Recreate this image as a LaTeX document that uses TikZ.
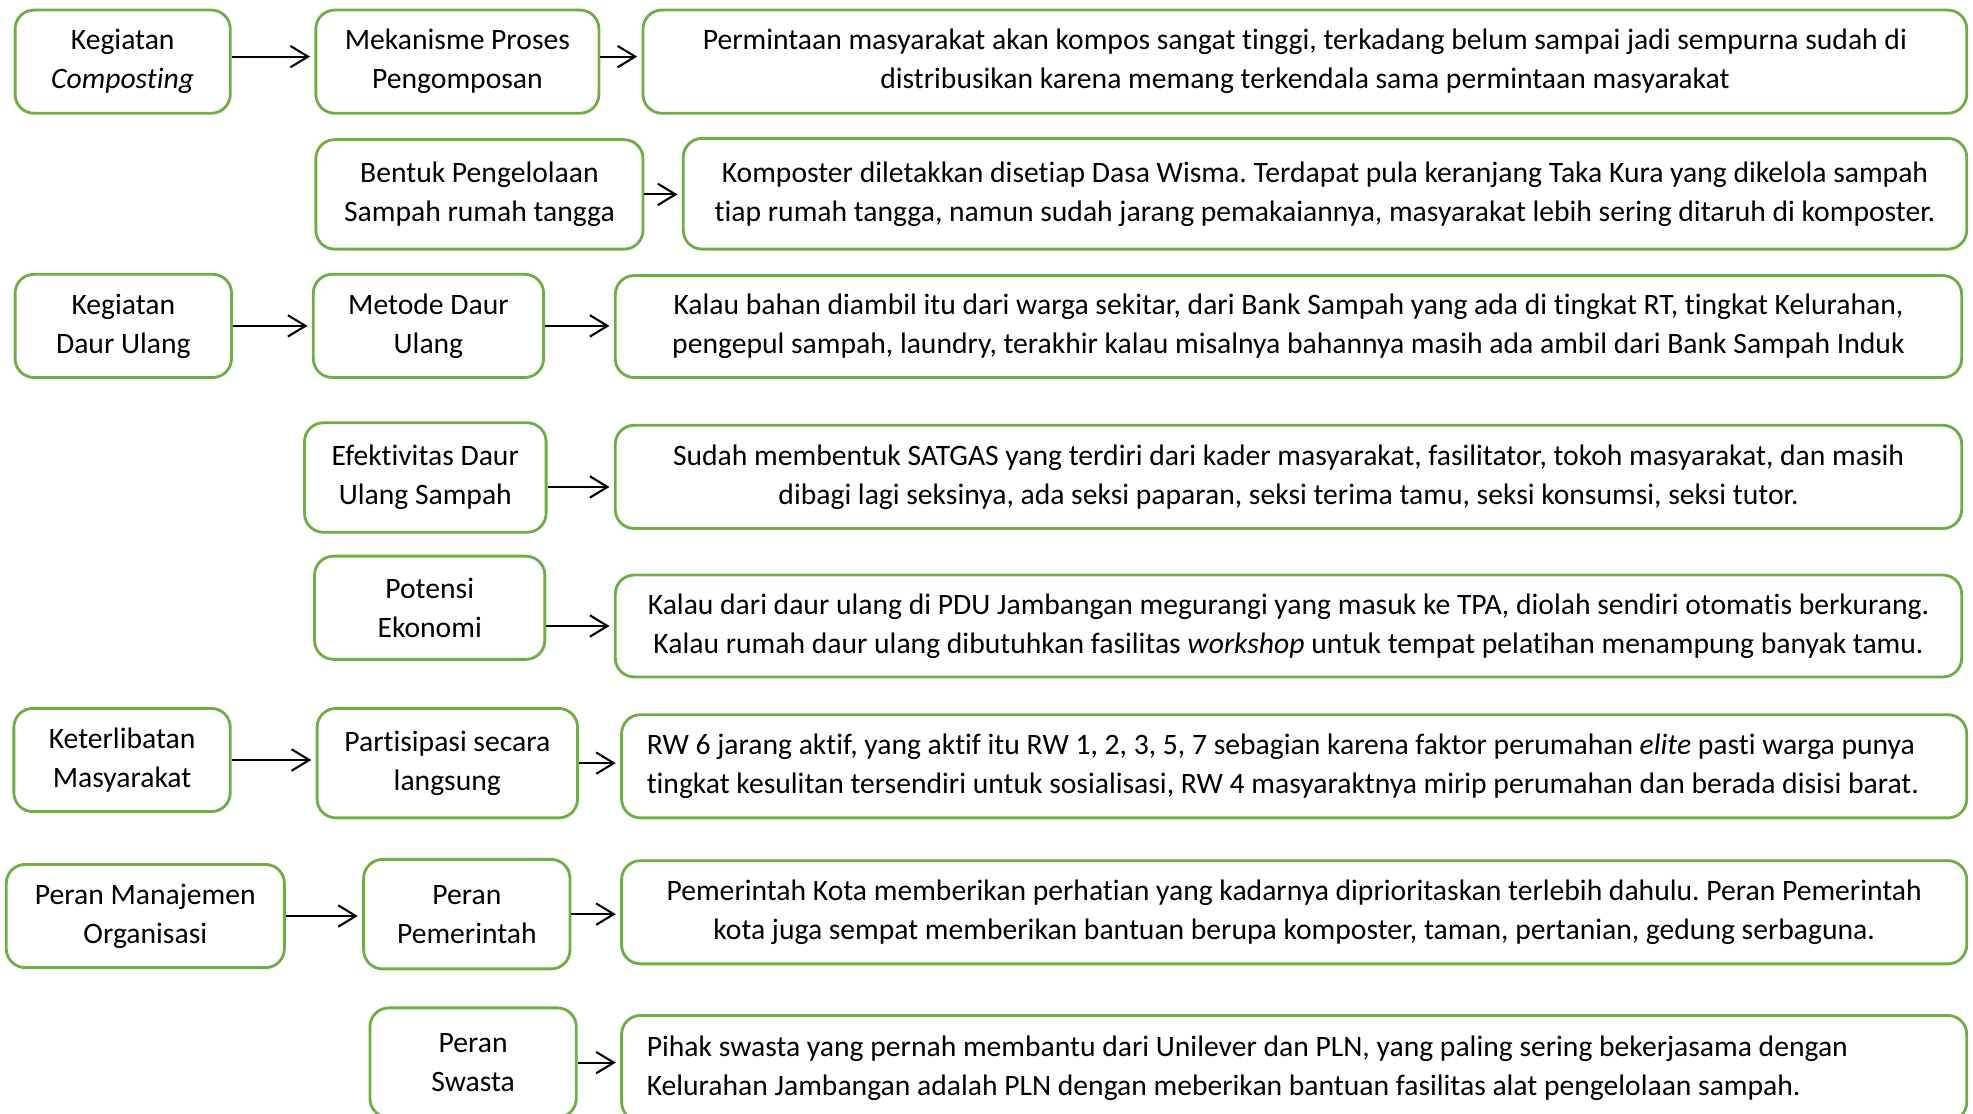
\documentclass[tikz,border=0pt]{standalone}
\usepackage{fontspec}
\setmainfont{Carlito}[Ligatures={NoCommon}]
\usetikzlibrary{arrows.meta}
\definecolor{gborder}{HTML}{70AD47}
\newcommand\pxu{0.2mm}
\frenchspacing
\begin{document}
\begin{tikzpicture}[x=0.2mm,y=-0.2mm,
  gbox/.style={draw=gborder, line width=0.45mm, rounded corners=3mm, align=center, inner sep=0pt, font=\fontsize{13.4}{17.64}\selectfont\frenchspacing, text=black},
  lbox/.style={gbox, align=flush left},
  conn/.style={draw=black, line width=0.33mm, -{Straight Barb[length=2.8mm,width=3.4mm,line width=0.33mm]}, shorten >=0.7mm}
]
\useasboundingbox (0,0) rectangle (1568,885);

% Row 1
\node[gbox, minimum width=171*\pxu, minimum height=82*\pxu] (a1) at (97.5,49) {Kegiatan\\\textit{Composting}};
\node[gbox, minimum width=225*\pxu, minimum height=82*\pxu] (b1) at (363.5,49) {Mekanisme Proses\\Pengomposan};
\node[gbox, minimum width=1052*\pxu, minimum height=82*\pxu] (c1) at (1037,49) {Permintaan masyarakat akan kompos sangat tinggi, terkadang belum sampai jadi sempurna sudah di\\distribusikan karena memang terkendala sama permintaan masyarakat};

% Row 2
\node[gbox, minimum width=260*\pxu, minimum height=87*\pxu] (b2) at (381,154.5) {Bentuk Pengelolaan\\Sampah rumah tangga};
\node[gbox, minimum width=1020*\pxu, minimum height=88*\pxu] (c2) at (1053,154) {Komposter diletakkan disetiap Dasa Wisma. Terdapat pula keranjang Taka Kura yang dikelola sampah\\tiap rumah tangga, namun sudah jarang pemakaiannya, masyarakat lebih sering ditaruh di komposter.};

% Row 3
\node[gbox, minimum width=172*\pxu, minimum height=82*\pxu] (a3) at (98,259) {Kegiatan\\Daur Ulang};
\node[gbox, minimum width=183*\pxu, minimum height=82*\pxu] (b3) at (340.5,259) {Metode Daur\\Ulang};
\node[gbox, minimum width=1070*\pxu, minimum height=81*\pxu] (c3) at (1024,259.5) {Kalau bahan diambil itu dari warga sekitar, dari Bank Sampah yang ada di tingkat RT, tingkat Kelurahan,\\pengepul sampah, laundry, terakhir kalau misalnya bahannya masih ada ambil dari Bank Sampah Induk};

% Row 4
\node[gbox, minimum width=192*\pxu, minimum height=87*\pxu] (b4) at (338,379.5) {Efektivitas Daur\\Ulang Sampah};
\node[gbox, minimum width=1070*\pxu, minimum height=82*\pxu] (c4) at (1024,379) {Sudah membentuk SATGAS yang terdiri dari kader masyarakat, fasilitator, tokoh masyarakat, dan masih\\dibagi lagi seksinya, ada seksi paparan, seksi terima tamu, seksi konsumsi, seksi tutor.};

% Row 5
\node[gbox, minimum width=183*\pxu, minimum height=82*\pxu] (b5) at (341.5,483) {Potensi\\Ekonomi};
\node[gbox, minimum width=1070*\pxu, minimum height=81*\pxu] (c5) at (1024,497.5) {Kalau dari daur ulang di PDU Jambangan megurangi yang masuk ke TPA, diolah sendiri otomatis berkurang.\\Kalau rumah daur ulang dibutuhkan fasilitas \textit{workshop} untuk tempat pelatihan menampung banyak tamu.};

% Row 6
\node[gbox, minimum width=172*\pxu, minimum height=82*\pxu] (a6) at (97,604) {Keterlibatan\\Masyarakat};
\node[gbox, minimum width=207*\pxu, minimum height=87*\pxu] (b6) at (355.5,606.5) {Partisipasi secara\\langsung};
\node[lbox, minimum width=1069*\pxu, minimum height=82*\pxu, text width=1029*\pxu] (c6) at (1028.5,609) {RW 6 jarang aktif, yang aktif itu RW 1, 2, 3, 5, 7 sebagian karena faktor perumahan \textit{elite} pasti warga punya\\tingkat kesulitan tersendiri untuk sosialisasi, RW 4 masyaraktnya mirip perumahan dan berada disisi barat.};

% Row 7
\node[gbox, minimum width=221*\pxu, minimum height=82*\pxu] (a7) at (115.5,728) {Peran Manajemen\\Organisasi};
\node[gbox, minimum width=164*\pxu, minimum height=87*\pxu] (b7) at (371,726.5) {Peran\\Pemerintah};
\node[gbox, minimum width=1069*\pxu, minimum height=82*\pxu] (c7) at (1028.5,725) {Pemerintah Kota memberikan perhatian yang kadarnya diprioritaskan terlebih dahulu. Peran Pemerintah\\kota juga sempat memberikan bantuan berupa komposter, taman, pertanian, gedung serbaguna.};

% Row 8
\node[gbox, minimum width=164*\pxu, minimum height=87*\pxu] (b8) at (376,844.5) {Peran\\Swasta};
\node[lbox, minimum width=1069*\pxu, minimum height=84*\pxu, text width=1029*\pxu] (c8) at (1028.5,849) {Pihak swasta yang pernah membantu dari Unilever dan PLN, yang paling sering bekerjasama dengan\\Kelurahan Jambangan adalah PLN dengan meberikan bantuan fasilitas alat pengelolaan sampah.};

% Connectors (horizontal)
\draw[conn] ([yshift=0.8mm]a1.east) -- ([yshift=0.8mm]a1.east -| b1.west);
\draw[conn] ([yshift=0.8mm]b1.east) -- ([yshift=0.8mm]b1.east -| c1.west);
\draw[conn] (b2.east) -- (b2.east -| c2.west);
\draw[conn] (a3.east) -- (a3.east -| b3.west);
\draw[conn] (b3.east) -- (b3.east -| c3.west);
\draw[conn] ([yshift=-1.5mm]b4.east) -- ([yshift=-1.5mm]b4.east -| c4.west);
\draw[conn] (b5.east |- c5.west) -- (c5.west);
\draw[conn] (a6.east) -- (a6.east -| b6.west);
\draw[conn] (b6.east) -- (b6.east -| c6.west);
\draw[conn] (a7.east) -- (a7.east -| b7.west);
\draw[conn] (b7.east) -- (b7.east -| c7.west);
\draw[conn] (b8.east) -- (b8.east -| c8.west);
\end{tikzpicture}
\end{document}
